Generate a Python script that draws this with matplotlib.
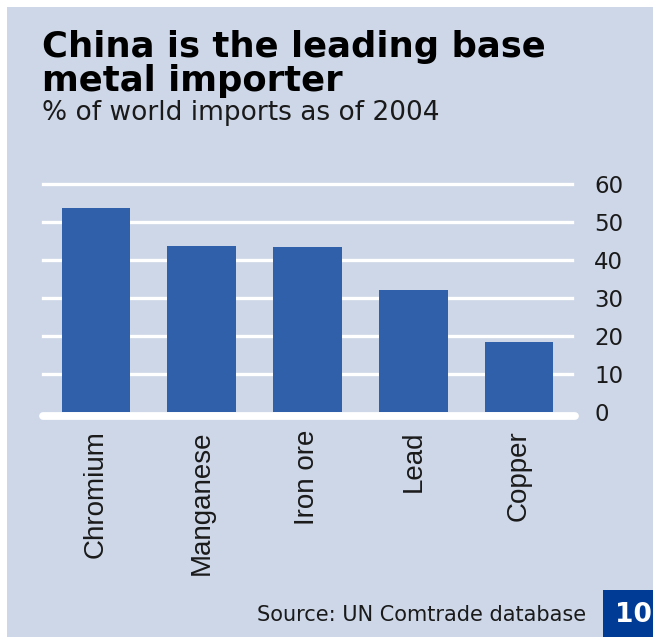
import matplotlib
matplotlib.use("Agg")
from matplotlib import pyplot as plt
from matplotlib.patches import Rectangle
from matplotlib.transforms import offset_copy

METALS = ["Chromium", "Manganese", "Iron ore", "Lead", "Copper"]
SHARE = [53.8, 43.8, 43.4, 32.0, 18.5]
Y_TICKS = [0, 10, 20, 30, 40, 50, 60]

BG = "#cdd7e8"
BAR = "#3160ab"
TEXT = "#1a1a1a"
WIDE = ["DejaVu Sans"]
NARROW = ["Liberation Sans", "DejaVu Sans"]

W, H = 653, 637
fig = plt.figure(figsize=(W / 100, H / 100), dpi=100, facecolor="white")

# light blue panel, thin white margin at top and left
fig.patches.append(Rectangle((7 / W, 0), 1, (H - 7) / H, transform=fig.transFigure,
                             facecolor=BG, edgecolor="none", zorder=-1))

ax = fig.add_axes([43 / W, (H - 412) / H, (572 - 43) / W, (412 - 184) / H])
ax.set_facecolor("none")

x = range(len(METALS))
ax.bar(x, SHARE, width=0.65, color=BAR, zorder=3)

for v in Y_TICKS[1:]:
    ax.axhline(v, color="white", lw=2.4, zorder=1, clip_on=False)
# thick baseline sitting just under the bars
base_tr = offset_copy(ax.get_yaxis_transform(), fig=fig, y=-4, units="dots")
ax.plot([0, 1.005], [0, 0], transform=base_tr, color="white", lw=5.6,
        solid_capstyle="round", clip_on=False, zorder=4)

ax.set_xlim(-0.5, len(METALS) - 0.5)
ax.set_ylim(0, 60)
ax.yaxis.tick_right()
ax.set_yticks(Y_TICKS)
ax.set_yticklabels([str(v) for v in Y_TICKS], fontsize=16.5, color=TEXT, family=WIDE)
ax.tick_params(axis="y", length=0, pad=16)
ax.set_xticks(list(x))
ax.set_xticklabels(METALS, rotation=90, fontsize=20, color=TEXT, va="top", family=NARROW)
ax.tick_params(axis="x", length=0, pad=13)
for s in ax.spines.values():
    s.set_visible(False)

fig.text(42 / W, 1 - 57 / H, "China is the leading base", fontsize=25.5,
         fontweight="bold", color="black", va="baseline", ha="left", family=WIDE)
fig.text(42 / W, 1 - 91 / H, "metal importer", fontsize=25.5,
         fontweight="bold", color="black", va="baseline", ha="left", family=WIDE)
fig.text(42 / W, 1 - 120 / H, "% of world imports as of 2004",
         fontsize=19, color=TEXT, va="baseline", ha="left", family=WIDE)

fig.text(586 / W, 1 - 621 / H, "Source: UN Comtrade database",
         fontsize=15, color=TEXT, va="baseline", ha="right", family=WIDE)
fig.patches.append(Rectangle((603 / W, 0), 1, 47 / H, transform=fig.transFigure,
                             facecolor="#003c96", edgecolor="none", zorder=1))
fig.text(615 / W, 1 - 622 / H, "10", fontsize=19, fontweight="bold",
         color="white", va="baseline", ha="left", family=WIDE)

fig.savefig("out.png", dpi=100, facecolor=fig.get_facecolor())
